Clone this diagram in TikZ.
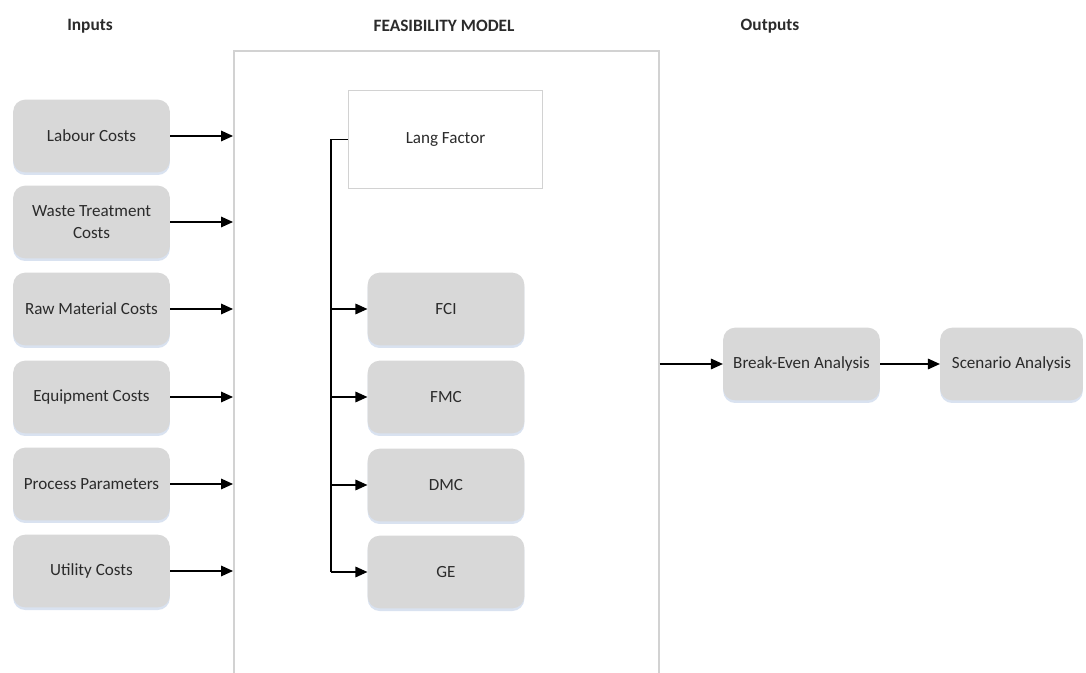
\documentclass[tikz,border=0pt]{standalone}
\usepackage{fontspec}
\setmainfont{Carlito}
\usetikzlibrary{arrows.meta,shadows}
\definecolor{boxgray}{HTML}{D8D8D8}
\definecolor{textdark}{HTML}{2B2B2B}
\definecolor{framegray}{HTML}{D2D2D2}
\definecolor{shadowblue}{HTML}{C9D6EA}
\begin{document}
\begin{tikzpicture}[x=0.75pt,y=-0.75pt,
  procbox/.style={fill=boxgray, draw=none, rounded corners=9pt,
    minimum width=117.5pt, minimum height=54.5pt, inner sep=1pt,
    align=center, text=textdark, font=\fontsize{12.8}{16}\selectfont,
    drop shadow={shadow xshift=0pt, shadow yshift=-2pt, fill=shadowblue, opacity=0.7}},
  langbox/.style={fill=white, draw=framegray, line width=0.9pt,
    minimum width=146pt, minimum height=74pt,
    text=textdark, font=\fontsize{12.8}{16}\selectfont},
  modelframe/.style={draw=framegray, line width=1.2pt, fill=white,
    minimum width=318.75pt, minimum height=525pt, inner sep=0pt},
  header/.style={font=\bfseries\fontsize{13}{16}\selectfont, text=textdark},
  arr/.style={draw=black, line width=0.9pt, -{Triangle[length=9pt,width=8pt]}},
  spine/.style={draw=black, line width=1.3pt}
]
\path[use as bounding box] (0,0) rectangle (1086,673);
\clip (0,0) rectangle (1086,673);
\fill[white] (0,0) rectangle (1086,673);

% column headers
\node[header] (hin)  at (90,26) {Inputs};
\node[header] (hmod) at (444,26) {FEASIBILITY MODEL};
\node[header] (hout) at (770,26) {Outputs};

% model frame, open past the lower page edge
\node[modelframe, anchor=north west] (model) at (233,50) {};

% input cost boxes
\node[procbox] (labour)  at (91.5,136) {Labour Costs};
\node[procbox] (waste)   at (91.5,222) {Waste Treatment\\Costs};
\node[procbox] (raw)     at (91.5,309) {Raw Material Costs};
\node[procbox] (equip)   at (91.5,397) {Equipment Costs};
\node[procbox] (process) at (91.5,484) {Process Parameters};
\node[procbox] (utility) at (91.5,571) {Utility Costs};

\foreach \n in {labour,waste,raw,equip,process,utility}
  \draw[arr] (\n.east) -- (model.west |- \n.east);

% model internals
\node[langbox] (lang) at (445.5,139.5) {Lang Factor};
\node[procbox] (fci) at (446,309) {FCI};
\node[procbox] (fmc) at (446,397) {FMC};
\node[procbox] (dmc) at (446,485) {DMC};
\node[procbox] (ge)  at (446,572) {GE};

\coordinate (spinetop) at (331,139.5);
\coordinate (spinebot) at (spinetop |- ge.west);
\draw[spine] (lang.west) -- (spinetop) -- (spinebot);
\foreach \n in {fci,fmc,dmc,ge}
  \draw[arr] (spinetop |- \n.west) -- (\n.west);

% outputs
\node[procbox] (be)   at (801.5,364) {Break-Even Analysis};
\node[procbox, minimum width=107pt] (scen) at (1011.5,364) {Scenario Analysis};
\draw[arr] (model.east |- be.west) -- (be.west);
\draw[arr] (be.east) -- (scen.west);
\end{tikzpicture}
\end{document}
